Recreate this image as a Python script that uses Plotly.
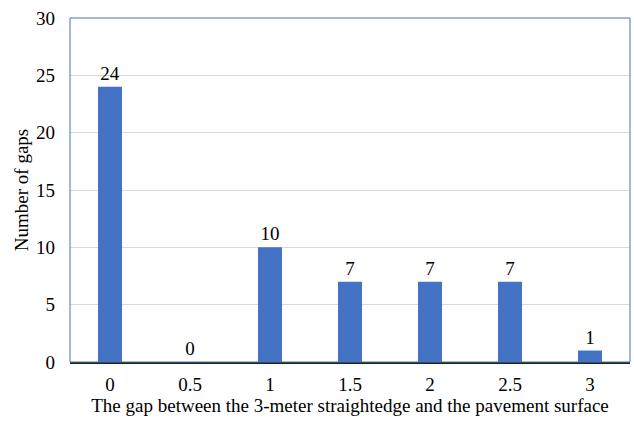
import plotly.graph_objects as go

categories = ["0", "0.5", "1", "1.5", "2", "2.5", "3"]
counts = [24, 0, 10, 7, 7, 7, 1]
y_ticks = [0, 5, 10, 15, 20, 25, 30]

FONT = "Liberation Serif, Times New Roman, serif"
BLUE = "#4472C4"
FS = 19

fig = go.Figure()
fig.add_trace(go.Bar(
    x=categories, y=counts,
    marker=dict(color=BLUE, line=dict(width=0)),
    text=[str(v) for v in counts], textposition="outside",
    textfont=dict(family=FONT, size=FS, color="#000000"),
    cliponaxis=False,
))

fig.update_layout(
    width=634, height=421,
    margin=dict(l=70, r=4, t=18, b=59),
    paper_bgcolor="white", plot_bgcolor="white",
    bargap=0.7, showlegend=False,
    font=dict(family=FONT, size=FS, color="#000000"),
    xaxis=dict(
        type="category", showgrid=False, ticks="",
        showline=True, linecolor="#222222", linewidth=1.5,
        tickfont=dict(family=FONT, size=FS),
        ticklabelstandoff=4,
        title=dict(text="The gap between the 3-meter straightedge and the pavement surface",
                   font=dict(family=FONT, size=FS), standoff=3),
    ),
    yaxis=dict(
        range=[0, 30], tickvals=y_ticks, showgrid=True, gridcolor="#D9D9D9", gridwidth=1,
        zeroline=False, showline=False, ticks="",
        tickfont=dict(family=FONT, size=FS), ticklabelstandoff=14,
        title=dict(text="Number of gaps", font=dict(family=FONT, size=FS), standoff=2),
    ),
    shapes=[dict(type="rect", xref="paper", yref="paper", x0=0, x1=1, y0=0, y1=1,
                 line=dict(color=BLUE, width=1), layer="above")],
)

fig.write_html("out.html")
